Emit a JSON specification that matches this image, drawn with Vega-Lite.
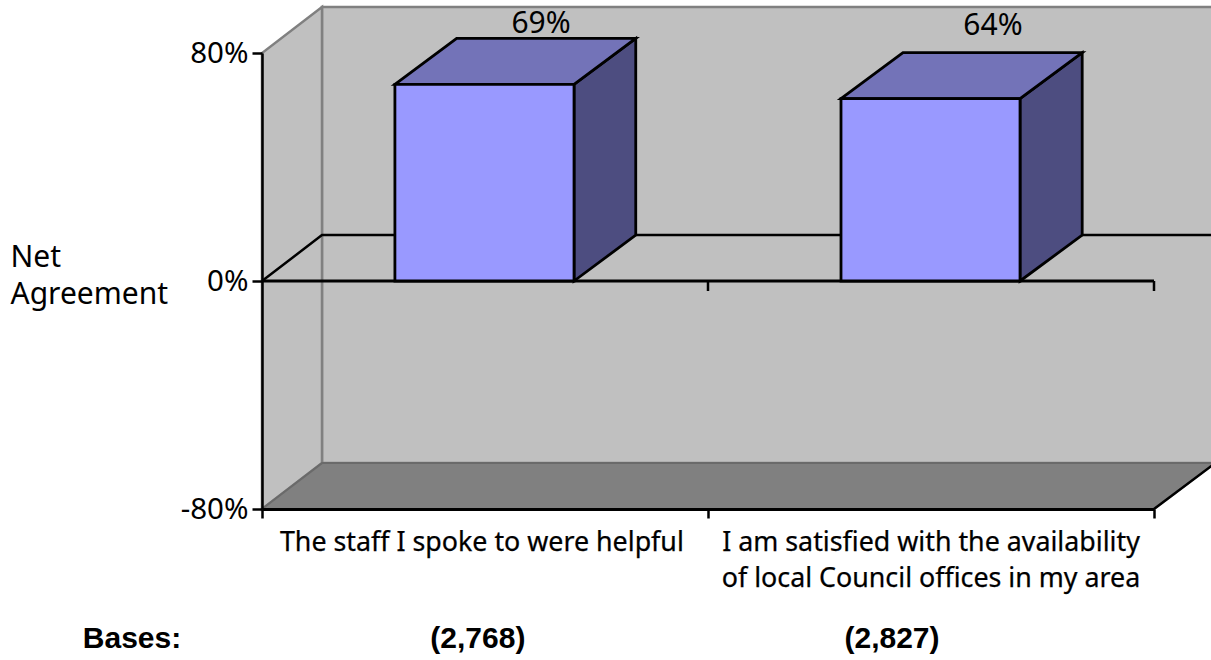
{
"$schema":"https://vega.github.io/schema/vega-lite/v6.json",
"width":892,"height":456,
"autosize":{"type":"none"},
"padding":{"left":262,"top":53,"right":57,"bottom":151},
"background":"white",
"view":{"stroke":null},
"config":{"font":"Noto Sans","view":{"stroke":null}},
"datasets":{
"bars":[
{"statement":"The staff I spoke to were helpful","agreement":69,"start":0.298,"end":0.6996,"center":0.493,"labelAt":0.6256,"labelHeight":87,"text":"69%"},
{"statement":"I am satisfied with the availability\nof local Council offices in my area","agreement":64,"start":1.2982,"end":1.6996,"center":1.5,"labelAt":1.639,"labelHeight":86.3,"text":"64%"}],
"side":[
{"bar":"a","x":0.6996,"low":0,"high":69},{"bar":"a","x":0.838,"low":16.1,"high":85.1},
{"bar":"b","x":1.6996,"low":0,"high":64},{"bar":"b","x":1.839,"low":16.1,"high":80.1}],
"top":[
{"bar":"a","y":69,"left":0.298,"right":0.6996},{"bar":"a","y":85.1,"left":0.4365,"right":0.838},
{"bar":"b","y":64,"left":1.2982,"right":1.6996},{"bar":"b","y":80.1,"left":1.4372,"right":1.839}],
"leftWall":[{"x":0,"low":-80,"high":80},{"x":0.1345,"low":-63.9,"high":96.1}],
"floor":[{"y":-80,"left":0,"right":2},{"y":-63.9,"left":0.1345,"right":2.137}],
"backGrid":[{"x":0,"y":0},{"x":0.1345,"y":16.1},{"x":2.137,"y":16.1}],
"floorEdge":[{"x":2,"y":-80},{"x":2.137,"y":-63.9}],
"zeroTicks":[{"x":1,"y":0,"y2":-3.5},{"x":2,"y":0,"y2":-3.5}],
"bases":[
{"label":"Bases:","x":-0.2915},
{"label":"(2,768)","x":0.484},
{"label":"(2,827)","x":1.4126}]
},
"layer":[
{"data":{"values":[{"x":0.1345,"x2":2.137,"y":-63.9,"y2":96.1}]},
 "mark":{"type":"rect","fill":"#c0c0c0","stroke":"#808080","strokeWidth":2.5},
 "encoding":{"x":{"field":"x","type":"quantitative","scale":{"domain":[0,2],"nice":false,"zero":false},
   "axis":{"values":[0,1,2],"labels":false,"title":null,"grid":false,"domainColor":"black","domainWidth":3,"tickColor":"black","tickWidth":2.5,"tickSize":9,"orient":"bottom","zindex":1}},
  "x2":{"field":"x2"},
  "y":{"field":"y","type":"quantitative","scale":{"domain":[-80,80],"nice":false,"zero":false},
   "axis":{"values":[80,0,-80],"labelExpr":"datum.value+'%'","grid":false,"domainColor":"black","domainWidth":2.5,"tickColor":"black","tickWidth":2.5,"tickSize":10,"labelFontSize":29.5,"labelColor":"black","labelPadding":4,"labelFont":"Noto Sans","zindex":1,
   "title":["Net","Agreement"],"titleAngle":0,"titleAlign":"left","titleBaseline":"alphabetic","titleX":-252,"titleY":213,"titleFontSize":30,"titleFontWeight":"normal","titleFont":"Noto Sans","titleColor":"black","titleLineHeight":37}},
  "y2":{"field":"y2"}}},
{"data":{"name":"leftWall"},"mark":{"type":"area","fill":"#c0c0c0","stroke":"#808080","strokeWidth":2.5},
 "encoding":{"x":{"field":"x","type":"quantitative"},"y":{"field":"low","type":"quantitative"},"y2":{"field":"high"}}},
{"data":{"name":"floor"},"mark":{"type":"area","orient":"horizontal","fill":"#808080","stroke":"#6a6a6a","strokeWidth":2},
 "encoding":{"y":{"field":"y","type":"quantitative"},"x":{"field":"left","type":"quantitative"},"x2":{"field":"right"}}},
{"data":{"name":"floorEdge"},"mark":{"type":"line","color":"black","strokeWidth":2.5},
 "encoding":{"x":{"field":"x","type":"quantitative"},"y":{"field":"y","type":"quantitative"}}},
{"data":{"name":"backGrid"},"mark":{"type":"line","color":"black","strokeWidth":2.5},
 "encoding":{"x":{"field":"x","type":"quantitative"},"y":{"field":"y","type":"quantitative"}}},
{"data":{"values":[{"x":0,"x2":2,"y":0}]},"mark":{"type":"rule","color":"black","strokeWidth":3},
 "encoding":{"x":{"field":"x","type":"quantitative"},"x2":{"field":"x2"},"y":{"field":"y","type":"quantitative"}}},
{"data":{"name":"zeroTicks"},"mark":{"type":"rule","color":"black","strokeWidth":2.5},
 "encoding":{"x":{"field":"x","type":"quantitative"},"y":{"field":"y","type":"quantitative"},"y2":{"field":"y2"}}},
{"data":{"name":"side"},"mark":{"type":"area","fill":"#4d4d80","stroke":"black","strokeWidth":2.8},
 "encoding":{"detail":{"field":"bar"},"x":{"field":"x","type":"quantitative"},"y":{"field":"low","type":"quantitative"},"y2":{"field":"high"}}},
{"data":{"name":"top"},"mark":{"type":"area","orient":"horizontal","fill":"#7373b8","stroke":"black","strokeWidth":2.8},
 "encoding":{"detail":{"field":"bar"},"y":{"field":"y","type":"quantitative"},"x":{"field":"left","type":"quantitative"},"x2":{"field":"right"}}},
{"data":{"name":"bars"},"mark":{"type":"rect","fill":"#9999ff","stroke":"black","strokeWidth":2.8},
 "encoding":{"x":{"field":"start","type":"quantitative"},"x2":{"field":"end"},"y":{"field":"agreement","type":"quantitative"},"y2":{"datum":0}}},
{"data":{"name":"bars"},"mark":{"type":"text","fontSize":30,"color":"black","font":"Noto Sans","baseline":"alphabetic"},
 "encoding":{"x":{"field":"labelAt","type":"quantitative"},"y":{"field":"labelHeight","type":"quantitative"},"text":{"field":"text"}}},
{"data":{"name":"bars"},
 "mark":{"type":"text","fontSize":26.8,"color":"black","font":"Noto Sans","baseline":"alphabetic","lineBreak":"\n","lineHeight":36,"y":498,"stroke":"black","strokeWidth":0.25},
 "encoding":{"x":{"field":"center","type":"quantitative"},"text":{"field":"statement"}}},
{"data":{"name":"bases"},"mark":{"type":"text","fontSize":30,"fontWeight":"bold","color":"black","font":"Liberation Sans","baseline":"alphabetic","y":595},
 "encoding":{"x":{"field":"x","type":"quantitative"},"text":{"field":"label"}}}
]
}
